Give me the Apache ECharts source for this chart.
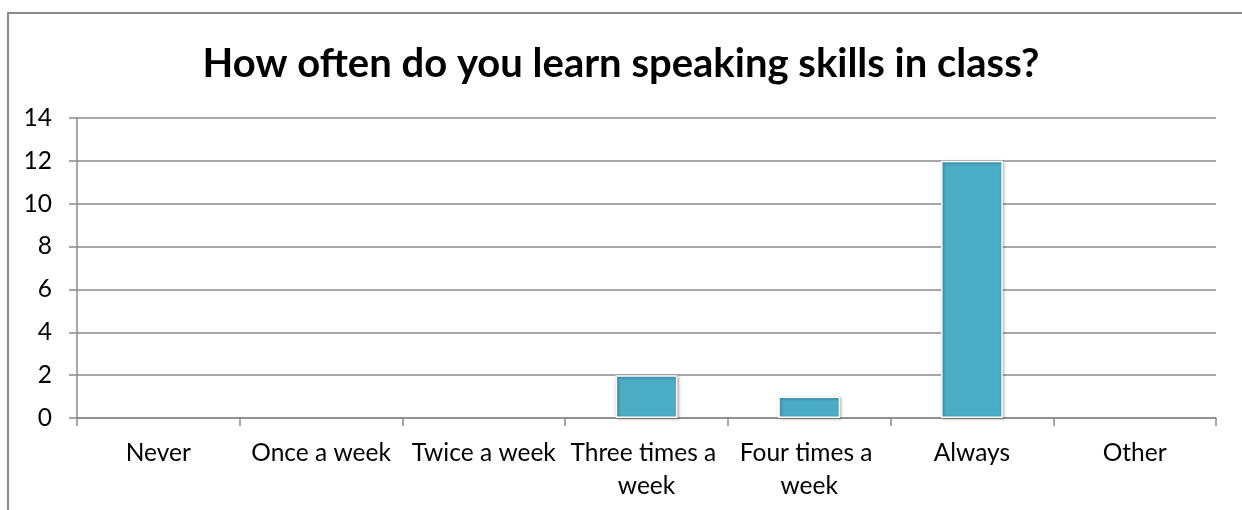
<!DOCTYPE html>
<html>
<head>
<meta charset="utf-8">
<script src="https://cdn.jsdelivr.net/npm/echarts@6/dist/echarts.min.js"></script>
<style>
  html, body { margin: 0; padding: 0; background: #fff; }
  #chart { width: 1242px; height: 510px; }
</style>
</head>
<body>
<div id="chart"></div>
<script>
const chartTitle = 'How often do you learn speaking skills in class?';
const categories = ['Never', 'Once a week', 'Twice a week', 'Three times a week', 'Four times a week', 'Always', 'Other'];
const responses = [0, 0, 0, 2, 1, 12, 0];
const yTicks = { min: 0, max: 14, interval: 2 };

const font = 'Lato, "Open Sans", sans-serif';
const lineGray = '#8a8a8a';

// Empty categories get no border or shadow so nothing shows on the baseline.
const barData = responses.map(v => v === 0
  ? { value: v, itemStyle: { borderWidth: 0, shadowBlur: 0, shadowColor: 'transparent', shadowOffsetX: 0, shadowOffsetY: 0 } }
  : v);

const chart = echarts.init(document.getElementById('chart'), null, { renderer: 'canvas' });
chart.setOption({
  animation: false,
  backgroundColor: '#ffffff',
  graphic: [{
    type: 'rect',
    shape: { x: 8, y: 13, width: 1400, height: 700 },
    style: { fill: 'none', stroke: lineGray, lineWidth: 2 },
    silent: true,
    z: -1
  }],
  title: {
    text: chartTitle,
    left: 'center',
    top: 39,
    textStyle: { fontFamily: font, fontWeight: 'bold', fontSize: 40, color: '#000' }
  },
  grid: { left: 77, right: 26, top: 118, bottom: 92, containLabel: false },
  xAxis: {
    type: 'category',
    data: categories,
    boundaryGap: true,
    axisLine: { show: true, lineStyle: { color: lineGray, width: 1.5 } },
    axisTick: { show: true, alignWithLabel: false, interval: 0, length: 8, lineStyle: { color: lineGray, width: 1.5 } },
    axisLabel: {
      interval: 0,
      margin: 19,
      width: 160,
      overflow: 'break',
      lineHeight: 33,
      fontFamily: font,
      fontSize: 24.5,
      color: '#000'
    }
  },
  yAxis: {
    type: 'value',
    min: yTicks.min,
    max: yTicks.max,
    interval: yTicks.interval,
    axisLine: { show: true, lineStyle: { color: lineGray, width: 1.5 } },
    axisTick: { show: true, length: 8, lineStyle: { color: lineGray, width: 1.5 } },
    axisLabel: { margin: 25, fontFamily: font, fontSize: 24.5, color: '#000' },
    splitLine: { show: true, lineStyle: { color: lineGray, width: 1.5 } }
  },
  series: [{
    type: 'bar',
    data: barData,
    barWidth: '38%',
    itemStyle: {
      color: '#4BACC6',
      borderColor: '#ffffff',
      borderWidth: 1.5,
      shadowBlur: 3,
      shadowColor: 'rgba(0,0,0,0.35)',
      shadowOffsetX: 1,
      shadowOffsetY: 1
    }
  }]
});
</script>
</body>
</html>
